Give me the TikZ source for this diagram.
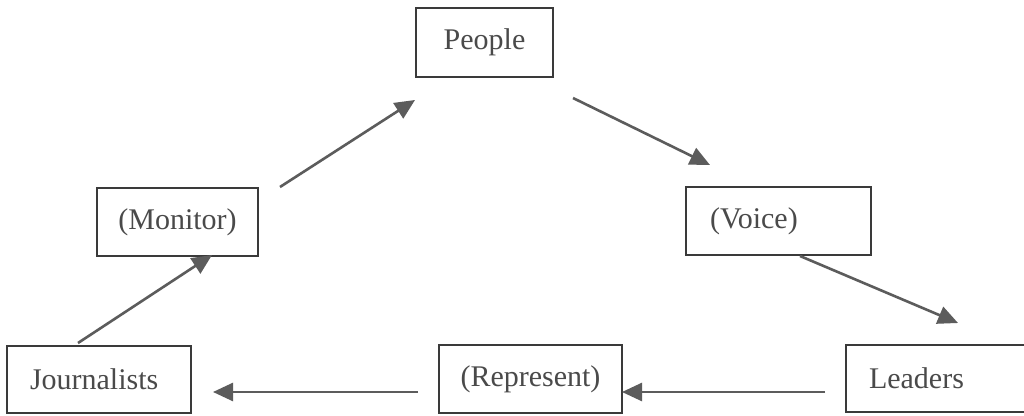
\documentclass[tikz,border=0pt]{standalone}
\usepackage{fontspec}
\setmainfont{Liberation Serif}
\usetikzlibrary{arrows.meta}
\definecolor{boxc}{HTML}{3A3A3A}
\definecolor{txtc}{HTML}{4A4A4A}
\definecolor{arrc}{HTML}{5C5C5C}
\tikzset{
  box/.style={draw=boxc, line width=1.8pt, rectangle, text=txtc,
    font=\fontsize{30}{35}\selectfont, inner sep=0pt},
  conn/.style={draw=arrc, line width=2.6pt,
    -{Triangle[length=20pt,width=18pt,fill=arrc]}}
}
\begin{document}
\begin{tikzpicture}[x=1pt,y=1pt]
\useasboundingbox[fill=white] (0,0) rectangle (1024,415);
\node[box, minimum width=137pt, minimum height=69pt] (people) at (484.5,372.5) {People};
\node[box, minimum width=161pt, minimum height=68pt] (monitor) at (177.5,193) {(Monitor)};
\node[box, minimum height=67pt, inner xsep=23pt, text width=138pt, align=left] (jour) at (99,35.5) {Journalists};
\node[box, minimum height=68pt, inner xsep=24pt, text width=137pt, align=left] (voice) at (778.5,194) {(Voice)};
\node[box, minimum height=67pt, inner xsep=23pt, text width=136pt, align=left] (leaders) at (937,36.5) {Leaders};
\node[box, minimum width=183pt, minimum height=68pt] (repr) at (530.5,36) {(Represent)};
\coordinate (a1s) at (78,72);   \coordinate (a1e) at (212,160);
\coordinate (a2s) at (280,228); \coordinate (a2e) at (415,315);
\coordinate (a3s) at (573,317); \coordinate (a3e) at (710,250);
\coordinate (a4s) at (800,159); \coordinate (a4e) at (958,92);
\coordinate (a5s) at (825,23);  \coordinate (a5e) at (622,23);
\coordinate (a6s) at (418,23);  \coordinate (a6e) at (213,23);
\draw[conn] (a1s) -- (a1e);
\draw[conn] (a2s) -- (a2e);
\draw[conn] (a3s) -- (a3e);
\draw[conn] (a4s) -- (a4e);
\draw[conn] (a5s) -- (a5e);
\draw[conn] (a6s) -- (a6e);
\end{tikzpicture}
\end{document}
